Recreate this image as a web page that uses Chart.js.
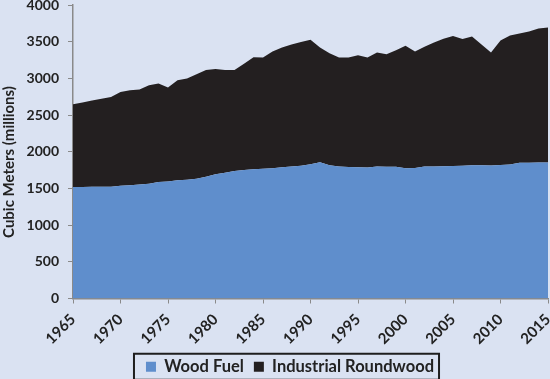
<!DOCTYPE html>
<html>
<head>
<meta charset="utf-8">
<script src="https://cdn.jsdelivr.net/npm/chart.js@4"></script>
<style>
  html, body { margin: 0; padding: 0; background: #DAE2F2; }
  #wrap { width: 550px; height: 379px; position: relative; }
</style>
</head>
<body>
<div id="wrap"><canvas id="c"></canvas></div>
<script>
const years = [];
for (let y = 1965; y <= 2015; y++) years.push(String(y));

const woodFuel = [
  1519, 1521, 1522, 1523, 1523, 1535, 1545, 1555, 1564, 1588,
  1595, 1611, 1620, 1633, 1660, 1693, 1715, 1739, 1750, 1762,
  1770, 1776, 1790, 1800, 1810, 1831, 1858, 1815, 1798, 1792,
  1788, 1784, 1798, 1796, 1794, 1775, 1780, 1798, 1800, 1803,
  1805, 1810, 1817, 1815, 1812, 1818, 1826, 1849, 1850, 1852,
  1853
];

const industrialRoundwood = [
  1127, 1151, 1175, 1199, 1224, 1280, 1293, 1293, 1343, 1342,
  1281, 1365, 1379, 1423, 1453, 1434, 1398, 1374, 1450, 1526,
  1515, 1589, 1630, 1660, 1685, 1695, 1562, 1528, 1487, 1491,
  1527, 1499, 1553, 1532, 1591, 1668, 1585, 1632, 1689, 1737,
  1772, 1725, 1755, 1645, 1539, 1698, 1759, 1763, 1790, 1828,
  1842
];

const seriesNames = ['Wood Fuel', 'Industrial Roundwood'];
const yTitle = 'Cubic Meters (millions)';

const FONT = 'Lato, "Open Sans", sans-serif';
const TXT = '#222222';
const AXIS = '#8a8a8a';
const LEGEND_SHIFT = 16;

const extras = {
  id: 'extras',
  afterLayout(chart) {
    const lg = chart.legend;
    if (!lg) return;
    lg.left += LEGEND_SHIFT;
    lg.right += LEGEND_SHIFT;
    (lg.legendHitBoxes || []).forEach(h => { h.left += LEGEND_SHIFT; });
  },
  afterDraw(chart) {
    const ctx = chart.ctx;
    // y-axis title
    ctx.save();
    ctx.fillStyle = TXT;
    ctx.font = 'bold 15px ' + FONT;
    ctx.textAlign = 'center';
    ctx.textBaseline = 'middle';
    ctx.translate(9, 162);
    ctx.rotate(-Math.PI / 2);
    ctx.fillText(yTitle, 0, 0);
    ctx.restore();
    // legend frame
    const lg = chart.legend;
    if (!lg || !lg.legendHitBoxes || !lg.legendHitBoxes.length) return;
    const hb = lg.legendHitBoxes;
    const first = hb[0], last = hb[hb.length - 1];
    const x1 = first.left - 12;
    const x2 = last.left + last.width + 5;
    const cy = first.top + first.height / 2;
    ctx.save();
    ctx.strokeStyle = '#1e1e1e';
    ctx.lineWidth = 2;
    ctx.strokeRect(x1, cy - 13, x2 - x1, 26);
    ctx.restore();
  }
};

new Chart(document.getElementById('c'), {
  type: 'line',
  data: {
    labels: years,
    datasets: [
      {
        label: seriesNames[0],
        data: woodFuel,
        backgroundColor: '#5F8ECC',
        borderColor: '#5F8ECC',
        borderWidth: 0,
        pointRadius: 0,
        fill: 'origin',
        tension: 0
      },
      {
        label: seriesNames[1],
        data: industrialRoundwood,
        backgroundColor: '#231F20',
        borderColor: '#231F20',
        borderWidth: 0,
        pointRadius: 0,
        fill: '-1',
        tension: 0
      }
    ]
  },
  options: {
    responsive: true,
    maintainAspectRatio: false,
    animation: false,
    layout: { padding: { left: 0, right: 2, top: 5, bottom: -6 } },
    plugins: {
      tooltip: { enabled: false },
      legend: {
        position: 'bottom',
        labels: {
          color: TXT,
          font: { family: FONT, size: 16.5, weight: 'bold' },
          boxWidth: 10,
          boxHeight: 10,
          padding: 10,
          generateLabels(chart) {
            return chart.data.datasets.map((ds, i) => ({
              text: ds.label,
              fillStyle: ds.backgroundColor,
              strokeStyle: ds.backgroundColor,
              lineWidth: 0,
              hidden: false,
              datasetIndex: i,
              fontColor: TXT
            }));
          }
        }
      }
    },
    scales: {
      x: {
        type: 'category',
        offset: false,
        grid: {
          offset: false,
          drawOnChartArea: false,
          tickLength: 5,
          color: (ctx) => (ctx.tick && ctx.index % 5 === 0) ? AXIS : 'rgba(0,0,0,0)'
        },
        border: { color: AXIS, width: 1.5 },
        ticks: {
          autoSkip: false,
          minRotation: 45,
          maxRotation: 45,
          padding: 7,
          color: TXT,
          font: { family: FONT, size: 15, weight: 'bold' },
          callback: function (val, idx) {
            const l = this.getLabelForValue(val);
            return (+l) % 5 === 0 ? l : '';
          }
        },
        afterFit: (s) => { s.height = 50; s.paddingLeft = 0; s.paddingRight = 0; }
      },
      y: {
        stacked: true,
        min: 0,
        max: 4000,
        grid: {
          drawOnChartArea: false,
          tickLength: 5,
          color: AXIS
        },
        border: { color: AXIS, width: 1.5 },
        ticks: {
          stepSize: 500,
          padding: 9,
          color: TXT,
          font: { family: FONT, size: 14, weight: 'bold' },
          callback: (v) => String(v)
        },
        title: { display: false },
        afterFit: (s) => { s.width = 73; s.paddingTop = 0; s.paddingBottom = 0; }
      }
    }
  },
  plugins: [extras]
});
</script>
</body>
</html>
